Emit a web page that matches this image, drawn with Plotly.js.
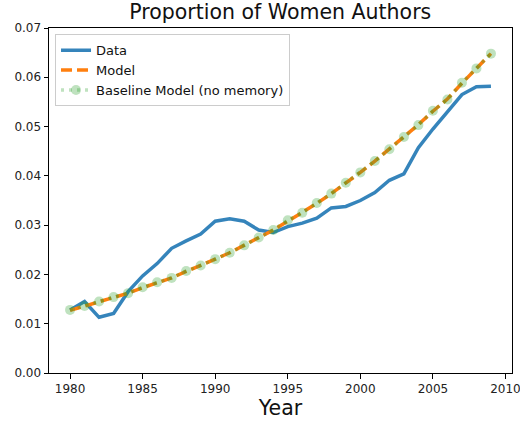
<!DOCTYPE html>
<html>
<head>
<meta charset="utf-8">
<script src="https://cdn.plot.ly/plotly-3.0.1.min.js"></script>
<style>html,body{margin:0;padding:0;background:#fff}#chart{width:520px;height:421px}</style>
</head>
<body>
<div id="chart"></div>
<script>
const years = [1980,1981,1982,1983,1984,1985,1986,1987,1988,1989,1990,1991,1992,1993,1994,1995,1996,1997,1998,1999,2000,2001,2002,2003,2004,2005,2006,2007,2008,2009];
const dataValues = [0.0128,0.0145,0.0113,0.0121,0.0165,0.0197,0.0222,0.0253,0.0268,0.0282,0.0308,0.0313,0.0308,0.0290,0.0285,0.0297,0.0304,0.0314,0.0335,0.0338,0.0350,0.0366,0.0391,0.0404,0.0457,0.0495,0.0530,0.0565,0.0581,0.0582];
const modelValues = [0.0127,0.0136,0.0144,0.0153,0.0162,0.0173,0.0183,0.0193,0.0206,0.0218,0.0231,0.0244,0.0259,0.0275,0.0290,0.0308,0.0325,0.0344,0.0364,0.0385,0.0407,0.0430,0.0454,0.0479,0.0504,0.0531,0.0556,0.0588,0.0617,0.0648];
const baselineValues = [0.0128,0.0136,0.0145,0.0154,0.0162,0.0174,0.0184,0.0193,0.0207,0.0218,0.0231,0.0244,0.0259,0.0275,0.0290,0.0310,0.0325,0.0345,0.0364,0.0386,0.0407,0.0430,0.0454,0.0479,0.0503,0.0532,0.0555,0.0589,0.0618,0.0648];
const xTicks = [1980,1985,1990,1995,2000,2005,2010];
const yTicks = [0,0.01,0.02,0.03,0.04,0.05,0.06,0.07];

const traces = [
  {x: years, y: dataValues, name: 'Data', mode: 'lines',
   line: {color: 'rgba(31,119,180,0.9)', width: 3.5}},
  {x: years, y: modelValues, name: 'Model', mode: 'lines',
   line: {color: '#ff7f0e', width: 3.5, dash: '11px,5px'}},
  {x: years, y: baselineValues, name: 'Baseline Model (no memory)', mode: 'lines+markers',
   line: {color: 'rgba(44,160,44,0.3)', width: 3.5, dash: '3px,5px'},
   marker: {color: 'rgba(44,160,44,0.3)', size: 10}}
];

const axisCommon = {
  showline: true, linecolor: '#000', linewidth: 1, mirror: true,
  ticks: 'outside', ticklen: 4.5, tickcolor: '#000', tickwidth: 1,
  showgrid: false, zeroline: false, ticklabeloverflow: 'allow',
  tickfont: {family: 'DejaVu Sans', size: 12, color: '#222'}
};

const layout = {
  width: 520, height: 421,
  margin: {l: 49, r: 8, t: 28, b: 48},
  paper_bgcolor: '#fff', plot_bgcolor: '#fff',
  font: {family: 'DejaVu Sans', color: '#000'},
  title: {text: 'Proportion of Women Authors', font: {family: 'DejaVu Sans', size: 20.5, color: '#111'},
          x: 0.539, xanchor: 'center', y: 0.972, yanchor: 'middle'},
  xaxis: Object.assign({}, axisCommon, {
    range: [1978.55, 2010.45], tickvals: xTicks, ticktext: xTicks.map(String),
    title: {text: 'Year', font: {family: 'DejaVu Sans', size: 20.5, color: '#111'}, standoff: 3}
  }),
  yaxis: Object.assign({}, axisCommon, {
    range: [0, 0.07], tickvals: yTicks, ticktext: yTicks.map(v => v.toFixed(2))
  }),
  legend: {x: 0.013, y: 0.982, xanchor: 'left', yanchor: 'top',
    bgcolor: 'rgba(255,255,255,0.8)', bordercolor: '#cccccc', borderwidth: 1,
    font: {family: 'DejaVu Sans', size: 13, color: '#111'}, tracegroupgap: 0, itemwidth: 30},
  showlegend: true
};

Plotly.newPlot('chart', traces, layout, {displayModeBar: false, staticPlot: true});
</script>
</body>
</html>
